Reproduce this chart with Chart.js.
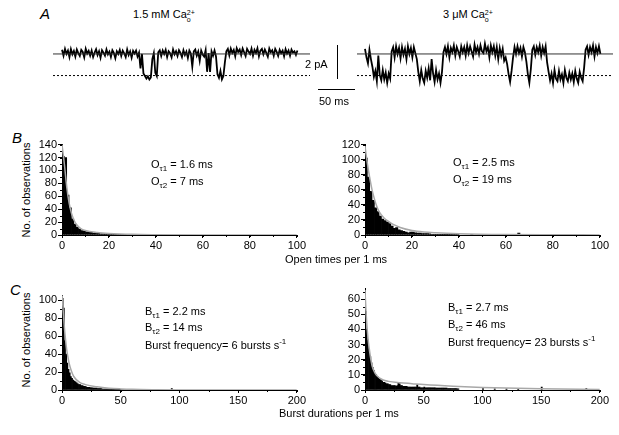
<!DOCTYPE html>
<html>
<head>
<meta charset="utf-8">
<script src="https://cdn.jsdelivr.net/npm/chart.js@4/dist/chart.umd.min.js"></script>
<style>
  body { margin: 0; background: #fff; font-family: 'Liberation Sans', Arial, sans-serif; color: #000; }
  #page { position: relative; width: 619px; height: 435px; overflow: hidden; }
  canvas, .t { position: absolute; }
  .t { font-size: 11px; white-space: nowrap; line-height: 1; }
  .letter { font-size: 15px; font-style: italic; }
  .ytitle { transform: translate(-50%, -50%) rotate(-90deg); }
  .ss { display: inline-block; vertical-align: -4px; line-height: 7px; font-size: 7px; text-align: left; }
  sub, sup { font-size: 8px; line-height: 0; }
  .bar { position: absolute; background: #000; }
</style>
</head>
<body>
<div id="page">
  <div class="t letter" style="left:40px;top:6px;">A</div>
  <div class="t" style="left:133px;top:9px;">1.5 mM Ca<span class="ss">2+<br>o</span></div>
  <div class="t" style="left:443px;top:9px;">3 &mu;M Ca<span class="ss">2+<br>o</span></div>

  <canvas id="trace1" width="257" height="60" style="left:53px;top:30px;"></canvas>
  <canvas id="trace2" width="256" height="60" style="left:357px;top:30px;"></canvas>

  <div class="bar" style="left:337px;top:45px;width:1px;height:34px;"></div>
  <div class="bar" style="left:318px;top:89px;width:37px;height:1px;"></div>
  <div class="t" style="left:305px;top:59px;">2 pA</div>
  <div class="t" style="left:319px;top:96px;">50 ms</div>

  <div class="t letter" style="left:12px;top:130px;">B</div>
  <div class="t ytitle" style="left:26px;top:190px;">No. of observations</div>
  <canvas id="openLow" width="285" height="118" style="left:22px;top:137px;"></canvas>
  <canvas id="openHigh" width="285" height="118" style="left:325px;top:137px;"></canvas>
  <div class="t" style="left:151px;top:159px;">O<sub>&tau;1</sub> = 1.6 ms</div>
  <div class="t" style="left:151px;top:176px;">O<sub>&tau;2</sub> = 7 ms</div>
  <div class="t" style="left:453px;top:157px;">O<sub>&tau;1</sub> = 2.5 ms</div>
  <div class="t" style="left:453px;top:174px;">O<sub>&tau;2</sub> = 19 ms</div>
  <div class="t" style="left:285px;top:254px;">Open times per 1 ms</div>

  <div class="t letter" style="left:10px;top:282px;">C</div>
  <div class="t ytitle" style="left:26px;top:340px;">No. of observations</div>
  <canvas id="burstLow" width="285" height="122" style="left:22px;top:288px;"></canvas>
  <canvas id="burstHigh" width="285" height="129" style="left:325px;top:281px;"></canvas>
  <div class="t" style="left:145px;top:306px;">B<sub>&tau;1</sub> = 2.2 ms</div>
  <div class="t" style="left:145px;top:322px;">B<sub>&tau;2</sub> = 14 ms</div>
  <div class="t" style="left:145px;top:340px;">Burst frequency= 6 bursts s<sup>-1</sup></div>
  <div class="t" style="left:448px;top:302px;">B<sub>&tau;1</sub> = 2.7 ms</div>
  <div class="t" style="left:448px;top:319px;">B<sub>&tau;2</sub> = 46 ms</div>
  <div class="t" style="left:448px;top:337px;">Burst frequency= 23 bursts s<sup>-1</sup></div>
  <div class="t" style="left:279px;top:408px;">Burst durations per 1 ms</div>
</div>

<script>
// ---- panel A: single-channel currents (pA, closed level = 0), one sample every 2 ms
const traceStepMs = 2;
const closedLevel = 0;
const openLevel = -1.27;

const trace15mM = [
  0.25, -0.1, 0.3, 0.0, 0.2, -0.18, 0.28, -0.02, 0.18, -0.15,
  0.26, 0.05, -0.12, 0.24, 0.12, -0.2, 0.3, 0.02, 0.18, -0.1,
  0.2, -0.18, 0.08, 0.28, -0.06, 0.16, -0.22, 0.22, 0.08, -0.1,
  0.27, -0.02, 0.14, -0.18, 0.22, 0.06, -0.25, 0.16, 0.0, 0.24,
  -0.12, 0.2, 0.04, -0.18, 0.26, -0.06, 0.15, -0.22, 0.18, 0.02,
  0.2, -0.15, 0.08, -0.85, 0.0, -1.15, -1.3, -1.45, -1.32, -1.5,
  -1.38, -0.3, 0.05, -1.1, -1.3, 0.1, 0.22, -0.12, 0.2, 0.0,
  0.24, -0.18, 0.16, 0.04, -0.2, 0.26, -0.02, 0.16, -0.12, 0.22,
  0.06, -0.18, 0.22, -0.06, 0.14, -0.24, 0.2, 0.02, -0.75, 0.15,
  0.26, -0.1, 0.14, -0.4, 0.2, -0.04, -0.16, 0.22, -1.05, 0.05,
  -1.05, 0.15, -0.1, 0.2, -0.15, -1.2, -1.4, -1.0, -1.5, -1.3,
  -0.5, 0.16, 0.3, -0.08, 0.32, 0.06, 0.24, -0.14, 0.34, 0.12,
  0.26, -0.06, 0.32, 0.1, -0.12, 0.3, 0.14, 0.0, 0.32, -0.1,
  0.24, 0.06, 0.34, -0.14, 0.2, 0.3, -0.02, 0.26, 0.06, -0.16,
  0.32, 0.1, 0.22, -0.1, 0.3, 0.12, -0.12, 0.24, 0.04, 0.2,
  -0.14, 0.28, 0.02, 0.2, -0.1, 0.26, 0.08, 0.16, -0.06, 0.2
];

const trace3uM = [
  0.3, -0.2, -0.55, 0.25, -0.3, -0.75, -1.35, -1.0, -1.6, -0.1,
  -1.25, -1.55, -0.95, -1.5, -1.1, -1.7, -1.15, -1.45, 0.15, 0.4,
  -0.2, 0.45, 0.0, 0.35, -0.25, 0.4, -0.05, 0.3, -0.3, 0.45,
  0.0, 0.35, -0.2, 0.4, 0.05, -0.3, -1.05, -1.6, -0.95, -1.45,
  -1.7, -1.0, -1.4, -0.85, -1.55, -0.3, -1.15, -1.65, -0.95, -1.5,
  -1.15, -1.7, -1.05, 0.1, 0.4, 0.0, 0.45, -0.2, 0.35, 0.1,
  0.5, -0.1, 0.4, 0.15, -0.15, 0.45, 0.1, 0.4, -0.1, 0.5,
  0.05, 0.45, 0.15, -0.15, 0.55, 0.1, 0.4, 0.0, 0.5, 0.15,
  0.05, 0.6, 0.15, 0.4, -0.2, 0.5, 0.1, 0.45, -0.1, 0.4,
  -0.3, 0.35, -0.1, 0.3, -0.4, -0.2, -0.6, -1.2, -1.65, -1.0,
  -0.2, 0.4, 0.0, 0.45, 0.05, 0.35, -0.15, 0.4, 0.1, -0.45,
  -1.2, -1.7, -0.9, 0.25, 0.45, -0.05, 0.4, 0.1, 0.5, -0.1,
  0.4, 0.05, 0.45, -0.5, -1.05, -1.55, -1.15, -1.7, -0.95, -1.45,
  -1.6, -1.0, -1.5, -1.2, -1.7, -0.95, -1.4, -1.6, -1.1, -1.5,
  -1.15, -1.65, -1.0, -1.45, -1.7, -1.05, -1.4, -1.6, -0.8, 0.25,
  0.45, -0.05, 0.4, 0.1, 0.5, -0.15, 0.4, 0.05, 0.45, 0.0
];

// ---- panel B: open-time histograms (1 ms bins, counts from bin 0)
const openBins15mM = [122, 120, 62, 42, 25, 17, 12, 9, 7, 6, 5, 4, 4, 3, 4, 3, 2, 2, 2, 2,
  1.5, 1, 1, 1, 1, 1, 1, 1, 1, 1];
const openFitX15mM = [0, 1, 2, 3, 4, 5, 6, 8, 10, 15, 20, 30, 40, 60, 100];
const openFitY15mM = [140, 110, 75, 50, 34, 24, 17, 10, 7, 4, 2.5, 1, 0.5, 0.15, 0];

const openBins3uM = [102, 77, 58, 46, 36, 31, 25, 21, 19, 17, 15, 12, 9, 10, 7, 6, 5, 4, 3, 4,
  4, 3, 2.5, 2.5, 2, 2, 2, 1.5, 1, 1, 1, 1, 1, 1, 1, 0.8, 0.8, 0.5, 0.5, 0.5];
const openExtraX3uM = [45, 55, 65, 85];
const openExtraY3uM = [0.8, 0.8, 2.5, 1];
const openFitX3uM = [0, 1, 2, 3, 4, 5, 6, 8, 10, 12, 15, 20, 25, 30, 40, 60, 80, 100];
const openFitY3uM = [118, 95, 76, 60, 48, 38, 31, 23, 18, 14, 10, 6, 4, 3, 1.8, 0.7, 0.3, 0.1];

// ---- panel C: burst-duration histograms
const burstBins15mM = [102, 91, 55, 40, 30, 23, 19, 15, 13, 11, 10, 9, 8, 7, 6, 6, 5, 5, 4, 4,
  3.5, 3, 3, 3, 2.5, 2.5, 2, 2, 2, 2, 1.5, 1.5, 1.5, 1.5, 1, 1, 1, 1, 1, 1,
  1, 1, 1, 1, 1, 0.8, 0.8, 0.8, 0.8, 0.8, 0.6, 0.6, 0.6, 0.6, 0.6, 0.5, 0.5, 0.5, 0.5, 0.5];
const burstExtraX15mM = [93];
const burstExtraY15mM = [1.5];
const burstFitX15mM = [0, 1, 2, 3, 4, 5, 6, 8, 10, 15, 20, 30, 40, 50, 60, 80, 100, 200];
const burstFitY15mM = [108, 88, 70, 56, 45, 37, 30, 21, 15, 8.5, 6, 3.5, 2, 1.2, 0.7, 0.3, 0.1, 0];

const burstBins3uM = [52, 40, 33, 27, 22, 18, 15, 13, 11, 10, 9, 8, 7, 6.5, 6, 5, 5, 4.5, 4, 4,
  3.5, 3.5, 3, 3, 3, 3, 2.5, 3, 5, 4, 3, 3, 2.5, 2.5, 2.5, 2.5, 2, 2, 2, 2,
  2, 2, 2, 2, 3.5, 2, 2, 1.5, 1.5, 1.5, 2, 1.5, 1.5, 1.5, 1.5, 1.5, 1.5, 1.5, 1.5, 1.5,
  1.2, 1.2, 1.2, 1.2, 1.2, 1.2, 1.2, 1.2, 1.2, 1.2, 1, 1, 1, 1, 1, 1, 1, 1, 0.8, 0.8];
const burstExtraX3uM = [100, 110, 120, 130, 150, 188];
const burstExtraY3uM = [1, 0.8, 0.8, 0.6, 2, 1];
const burstFitX3uM = [0, 1, 2, 3, 4, 5, 6, 8, 10, 15, 20, 30, 40, 50, 75, 100, 150, 200];
const burstFitY3uM = [66, 50, 39, 31, 25, 20, 16, 12, 9.5, 6.8, 5.7, 4.8, 4.2, 3.6, 2.5, 1.7, 0.8, 0.35];

Chart.defaults.font.family = "'Liberation Sans', Arial, sans-serif";
Chart.defaults.font.size = 11;
Chart.defaults.color = '#000';
Chart.defaults.animation = false;

// small ticks between the labelled ones
const minorTicks = {
  id: 'minorTicks',
  afterDraw(chart, args, opts) {
    const ctx = chart.ctx;
    const xs = chart.scales.x, ys = chart.scales.y;
    ctx.save();
    ctx.strokeStyle = '#000';
    ctx.lineWidth = 1;
    ctx.beginPath();
    if (opts.x) {
      for (let v = xs.min; v <= xs.max + 1e-6; v += opts.x) {
        const px = Math.round(xs.getPixelForValue(v)) + 0.5;
        ctx.moveTo(px, ys.bottom);
        ctx.lineTo(px, ys.bottom + 2);
      }
    }
    if (opts.y) {
      for (let v = ys.min; v <= ys.max + 1e-6; v += opts.y) {
        const py = Math.round(ys.getPixelForValue(v)) + 0.5;
        ctx.moveTo(xs.left, py);
        ctx.lineTo(xs.left - 2, py);
      }
    }
    ctx.stroke();
    ctx.restore();
  }
};

function makeTrace(id, values, xMin, xMax, yMin, yMax) {
  const pts = values.map((v, i) => ({x: i * traceStepMs, y: v}));
  new Chart(document.getElementById(id), {
    type: 'line',
    data: {
      datasets: [
        {data: [{x: xMin, y: closedLevel}, {x: xMax, y: closedLevel}], borderColor: '#333', borderWidth: 1, pointRadius: 0},
        {data: [{x: xMin, y: openLevel}, {x: xMax, y: openLevel}], borderColor: '#000', borderWidth: 1, borderDash: [2, 2], pointRadius: 0},
        {data: pts, borderColor: '#000', borderWidth: 1.8, pointRadius: 0, tension: 0}
      ]
    },
    options: {
      responsive: false,
      devicePixelRatio: 1,
      layout: {padding: 0},
      plugins: {legend: {display: false}, tooltip: {enabled: false}},
      scales: {
        x: {type: 'linear', display: false, min: xMin, max: xMax},
        y: {display: false, min: yMin, max: yMax}
      }
    }
  });
}

function makeHist(id, bins, extraX, extraY, fitX, fitY, xMax, xStep, xMinor, yMax, yStep, yMinor) {
  const barPts = bins.map((v, i) => ({x: i + 0.5, y: v}));
  extraX.forEach((x, i) => barPts.push({x: x + 0.5, y: extraY[i]}));
  const fitPts = fitX.map((x, i) => ({x: x, y: fitY[i]}));
  new Chart(document.getElementById(id), {
    type: 'bar',
    data: {
      datasets: [
        {type: 'line', data: fitPts, borderColor: '#a8a8a8', borderWidth: 1.5, pointRadius: 0,
          cubicInterpolationMode: 'monotone', order: 0},
        {data: barPts, backgroundColor: '#000', borderWidth: 0, barPercentage: 1, categoryPercentage: 1, order: 1}
      ]
    },
    options: {
      responsive: false,
      devicePixelRatio: 1,
      layout: {padding: {top: 4, right: 10, left: 0, bottom: 0}},
      plugins: {legend: {display: false}, tooltip: {enabled: false}, minorTicks: {x: xMinor, y: yMinor}},
      scales: {
        x: {
          type: 'linear', min: 0, max: xMax, offset: false,
          grid: {drawOnChartArea: false, offset: false, color: '#000', tickLength: 3},
          border: {color: '#000'},
          ticks: {stepSize: xStep, autoSkip: false, maxRotation: 0, padding: 1},
          afterFit: s => { s.height = 20; }
        },
        y: {
          min: 0, max: yMax,
          grid: {drawOnChartArea: false, color: '#000', tickLength: 4},
          border: {color: '#000'},
          ticks: {padding: 1, autoSkip: false},
          afterBuildTicks: s => {
            const ticks = [];
            for (let v = 0; v <= yMax; v += yStep) ticks.push({value: v});
            s.ticks = ticks;
          },
          afterFit: s => { s.width = 40; }
        }
      }
    },
    plugins: [minorTicks]
  });
}

makeTrace('trace1', trace15mM, -12.2, 335, -2.12, 1.41);
makeTrace('trace2', trace3uM, -10.8, 335, -2.12, 1.41);

makeHist('openLow', openBins15mM, [], [], openFitX15mM, openFitY15mM, 100, 20, 10, 140, 20, 10);
makeHist('openHigh', openBins3uM, openExtraX3uM, openExtraY3uM, openFitX3uM, openFitY3uM, 100, 20, 10, 120, 20, 10);
makeHist('burstLow', burstBins15mM, burstExtraX15mM, burstExtraY15mM, burstFitX15mM, burstFitY15mM, 200, 50, 25, 105, 20, 10);
makeHist('burstHigh', burstBins3uM, burstExtraX3uM, burstExtraY3uM, burstFitX3uM, burstFitY3uM, 200, 50, 25, 67, 10, 5);
</script>
</body>
</html>
